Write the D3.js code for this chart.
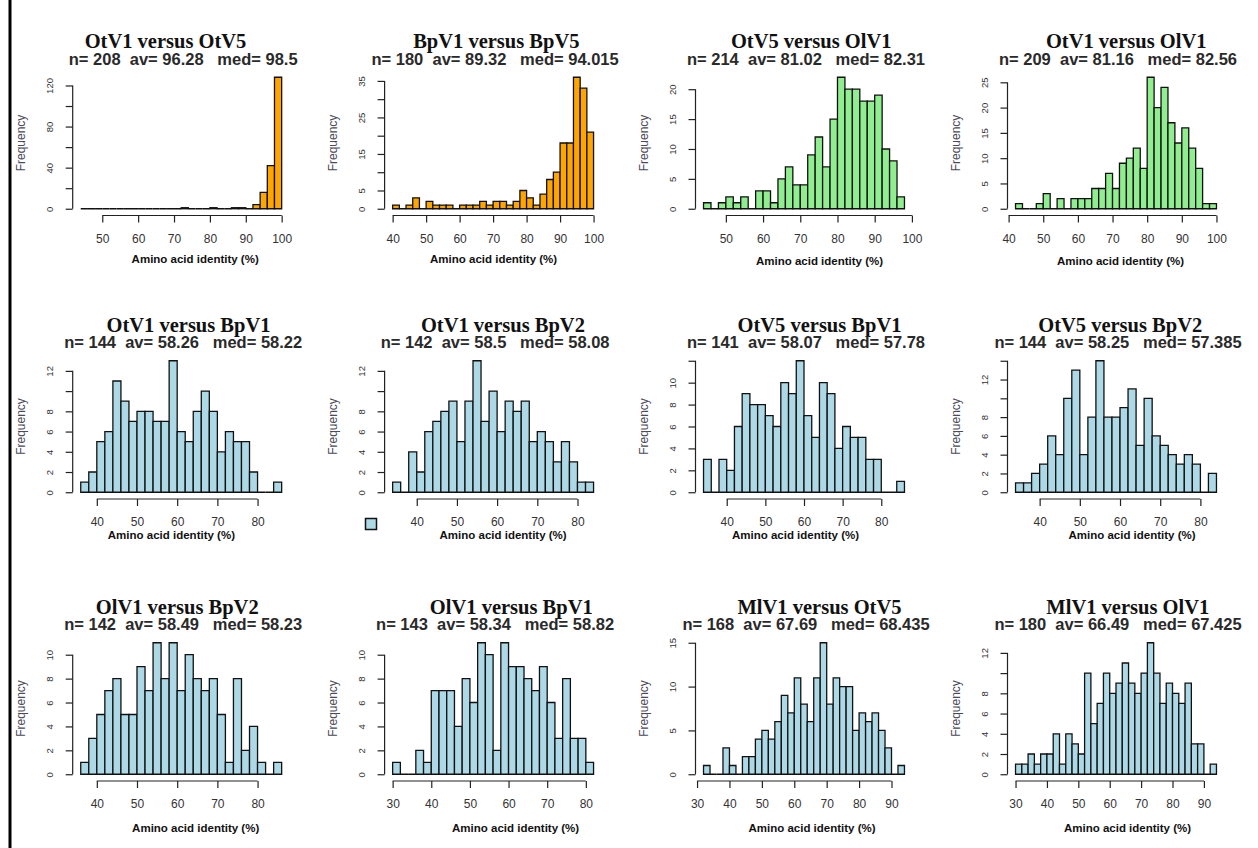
<!DOCTYPE html>
<html>
<head>
<meta charset="utf-8">
<script src="https://cdn.jsdelivr.net/npm/d3@7"></script>
<style>
  body { margin: 0; background: #fff; }
  svg { display: block; }
</style>
</head>
<body>
<svg id="chart" width="1258" height="848"></svg>
<script>
// Pairwise amino acid identity histograms (bin width 2 %)
const titles = [
  "OtV1 versus OtV5", "BpV1 versus BpV5", "OtV5 versus OlV1", "OtV1 versus OlV1",
  "OtV1 versus BpV1", "OtV1 versus BpV2", "OtV5 versus BpV1", "OtV5 versus BpV2",
  "OlV1 versus BpV2", "OlV1 versus BpV1", "MlV1 versus OtV5", "MlV1 versus OlV1"
];
const nValues   = [208, 180, 214, 209, 144, 142, 141, 144, 142, 143, 168, 180];
const avValues  = [96.28, 89.32, 81.02, 81.16, 58.26, 58.5, 58.07, 58.25, 58.49, 58.34, 67.69, 66.49];
const medValues = [98.5, 94.015, 82.31, 82.56, 58.22, 58.08, 57.78, 57.385, 58.23, 58.82, 68.435, 67.425];

// lower edge of the first bin of each histogram
const binStarts = [44, 40, 44, 42, 36, 34, 34, 34, 36, 30, 32, 30];
const binWidth = 2;

// counts per bin
const counts = [
  [0,0,0,0,0,0,0,0,0,0,0,0,0,0,1,0,0,0,1,0,0,1,1,0,4,16,42,128],
  [1,0,1,3,0,2,1,1,1,0,1,1,1,2,1,2,2,1,2,5,3,1,4,8,10,18,18,36,33,21],
  [1,0,1,2,1,2,0,3,3,1,5,7,4,4,9,12,7,15,22,20,20,18,18,19,10,8,2],
  [1,0,0,1,3,0,2,0,2,2,2,4,4,7,4,9,10,12,8,26,20,24,17,13,16,12,8,1,1],
  [1,2,5,6,11,9,7,8,8,7,7,13,6,5,8,10,8,4,6,5,5,2,0,0,1],
  [1,0,4,2,6,7,8,9,5,9,13,7,10,6,9,8,9,5,6,5,3,5,3,1,1],
  [3,0,3,2,6,9,8,8,7,6,10,9,12,7,5,10,9,4,6,5,5,3,3,0,0,1],
  [1,1,2,3,6,4,10,13,4,8,14,8,8,9,11,5,10,6,5,4,3,4,3,0,2],
  [1,3,5,7,8,5,5,9,7,11,8,11,7,10,8,7,8,5,1,8,2,4,1,0,1],
  [1,0,0,2,1,7,7,7,4,8,6,11,10,2,11,9,9,8,7,9,6,3,8,3,3,1],
  [1,0,0,3,1,0,2,2,4,5,4,6,9,7,11,8,6,11,15,8,11,10,10,5,7,6,7,5,3,0,1],
  [1,1,2,1,2,2,4,1,4,3,2,10,5,7,10,8,9,11,9,8,10,13,10,7,9,8,7,9,3,3,0,1]
];

// axis ticks and which of them carry a label
const xTicks = [
  [50,60,70,80,90,100], [40,50,60,70,80,90,100], [50,60,70,80,90,100], [40,50,60,70,80,90,100],
  [40,50,60,70,80], [40,50,60,70,80], [40,50,60,70,80], [40,50,60,70,80],
  [40,50,60,70,80], [30,40,50,60,70,80], [30,40,50,60,70,80,90], [30,40,50,60,70,80,90]
];
const yTicks = [
  [0,20,40,60,80,100,120], [0,5,10,15,20,25,30,35], [0,5,10,15,20], [0,5,10,15,20,25],
  [0,2,4,6,8,10,12], [0,2,4,6,8,10,12], [0,2,4,6,8,10,12], [0,2,4,6,8,10,12,14],
  [0,2,4,6,8,10], [0,2,4,6,8,10], [0,5,10,15], [0,2,4,6,8,10,12]
];
const yTickLabels = [
  [0,40,80,120], [0,5,15,25,35], [0,5,10,15,20], [0,5,10,15,20,25],
  [0,2,4,6,8,12], [0,2,4,6,8,12], [0,2,4,6,8,10], [0,2,4,6,8,12],
  [0,2,4,6,8,10], [0,2,4,6,8,10], [0,5,10,15], [0,2,4,6,8,12]
];

const xLabel = "Amino acid identity (%)";
const yLabel = "Frequency";

// ---- styling and panel layout ----
const fills = ["#FFA500","#FFA500","#90EE90","#90EE90",
               "#ADD8E6","#ADD8E6","#ADD8E6","#ADD8E6",
               "#ADD8E6","#ADD8E6","#ADD8E6","#ADD8E6"];
const colLeft = [72.7, 384.6, 695.5, 1007.5];
const rowTop = [72, 355.5, 637.5];
const plotW = 217, plotH = 142;
const titleDx = [-15.7, 3.2, 7.2, 10.2, 7.3, 9.8, 15.5, 4.2, -4, 18.2, 15.5, 11.8];
const xlabDx  = [14, 0.5, 15.5, 4.5, -9.8, 10, -8.5, 16, 14.5, 22.5, 8, 11.5];
const xlabDy  = [48.5, 48.5, 51, 51, 41, 41, 41, 41, 52.5, 52.5, 52.5, 52.5];

const svg = d3.select("#chart");
svg.append("rect").attr("width", 1258).attr("height", 848).attr("fill", "#fff");
// left frame line
svg.append("rect").attr("x", 8.5).attr("y", 0).attr("width", 3).attr("height", 848).attr("fill", "#000");

titles.forEach((title, i) => {
  const col = i % 4, row = Math.floor(i / 4);
  const left = colLeft[col], top = rowTop[row], bottom = top + plotH;
  const lo = binStarts[i], hi = lo + binWidth * counts[i].length;
  const ymax = d3.max(counts[i]);

  const x = d3.scaleLinear()
    .domain([lo - 0.04 * (hi - lo), hi + 0.04 * (hi - lo)])
    .range([left, left + plotW]);
  const y = d3.scaleLinear()
    .domain([-0.04 * ymax, 1.04 * ymax])
    .range([bottom, top]);

  const g = svg.append("g").attr("class", "panel");

  // bars (paths so that empty bins still show as a baseline segment)
  g.selectAll("path.bar")
    .data(counts[i])
    .join("path")
    .attr("class", "bar")
    .attr("d", (c, k) => {
      const x0 = x(lo + k * binWidth), x1 = x(lo + (k + 1) * binWidth);
      const y0 = y(0), y1 = y(c);
      return `M${x0},${y0}V${y1}H${x1}V${y0}Z`;
    })
    .attr("fill", fills[i])
    .attr("stroke", "#111")
    .attr("stroke-width", 1.3);

  // x axis
  const xa = g.append("g")
    .attr("transform", `translate(0,${bottom + 1.5})`)
    .call(d3.axisBottom(x).tickValues(xTicks[i]).tickSize(7).tickSizeOuter(0).tickFormat(d3.format("d")));
  xa.select(".domain").remove();
  xa.append("line")
    .attr("x1", x(xTicks[i][0])).attr("x2", x(xTicks[i][xTicks[i].length - 1]))
    .attr("stroke", "#222").attr("stroke-width", 1.2);
  xa.selectAll(".tick line").attr("stroke", "#222").attr("stroke-width", 1.2);
  xa.selectAll(".tick text")
    .attr("y", 27).attr("dy", 0)
    .attr("fill", "#333")
    .style("font-family", "'Liberation Sans', Arial, sans-serif")
    .style("font-size", "12px");

  // y axis
  const labelled = new Set(yTickLabels[i]);
  const ya = g.append("g")
    .attr("transform", `translate(${left},0)`)
    .call(d3.axisLeft(y).tickValues(yTicks[i]).tickSize(7).tickSizeOuter(0)
      .tickFormat(v => labelled.has(v) ? String(v) : ""));
  ya.select(".domain").remove();
  ya.append("line")
    .attr("y1", y(yTicks[i][0])).attr("y2", y(yTicks[i][yTicks[i].length - 1]))
    .attr("stroke", "#222").attr("stroke-width", 1.2);
  ya.selectAll(".tick line").attr("stroke", "#222").attr("stroke-width", 1.2);
  ya.selectAll(".tick text")
    .attr("x", 0).attr("y", 0).attr("dy", 0)
    .attr("transform", "translate(-19.5,0) rotate(-90)")
    .attr("text-anchor", "middle")
    .attr("fill", "#333")
    .style("font-family", "'Liberation Sans', Arial, sans-serif")
    .style("font-size", "9.5px");

  // axis titles
  g.append("text")
    .attr("transform", `translate(${left - 48},${top + plotH / 2}) rotate(-90)`)
    .attr("text-anchor", "middle")
    .attr("fill", "#4a4a58")
    .style("font-family", "'Liberation Sans', Arial, sans-serif")
    .style("font-size", "12px")
    .text(yLabel);

  g.append("text")
    .attr("x", left + plotW / 2 + xlabDx[i])
    .attr("y", bottom + xlabDy[i])
    .attr("text-anchor", "middle")
    .attr("fill", "#111")
    .style("font-family", "'Liberation Sans', Arial, sans-serif")
    .style("font-weight", "bold")
    .style("font-size", "11.5px")
    .text(xLabel);

  // panel title and summary line
  g.append("text")
    .attr("x", left + plotW / 2 + titleDx[i])
    .attr("y", top - 24)
    .attr("text-anchor", "middle")
    .attr("fill", "#111")
    .style("font-family", "'Liberation Serif', 'Times New Roman', serif")
    .style("font-weight", "bold")
    .style("font-size", "20.5px")
    .text(title);

  g.append("text")
    .attr("x", left + plotW / 2 + 2)
    .attr("y", top - 7.5)
    .attr("text-anchor", "middle")
    .attr("fill", "#2a2a2a")
    .attr("xml:space", "preserve")
    .style("white-space", "pre")
    .style("font-family", "'Liberation Sans', Arial, sans-serif")
    .style("font-weight", "bold")
    .style("font-size", "16.5px")
    .text(`n= ${nValues[i]}  av= ${avValues[i]}   med= ${medValues[i]}`);
});

// small key swatch beneath the OtV1/BpV2 panel
svg.append("rect")
  .attr("x", 365.5).attr("y", 518.5).attr("width", 11).attr("height", 11)
  .attr("fill", "#ADD8E6").attr("stroke", "#111").attr("stroke-width", 1.5);
</script>
</body>
</html>
